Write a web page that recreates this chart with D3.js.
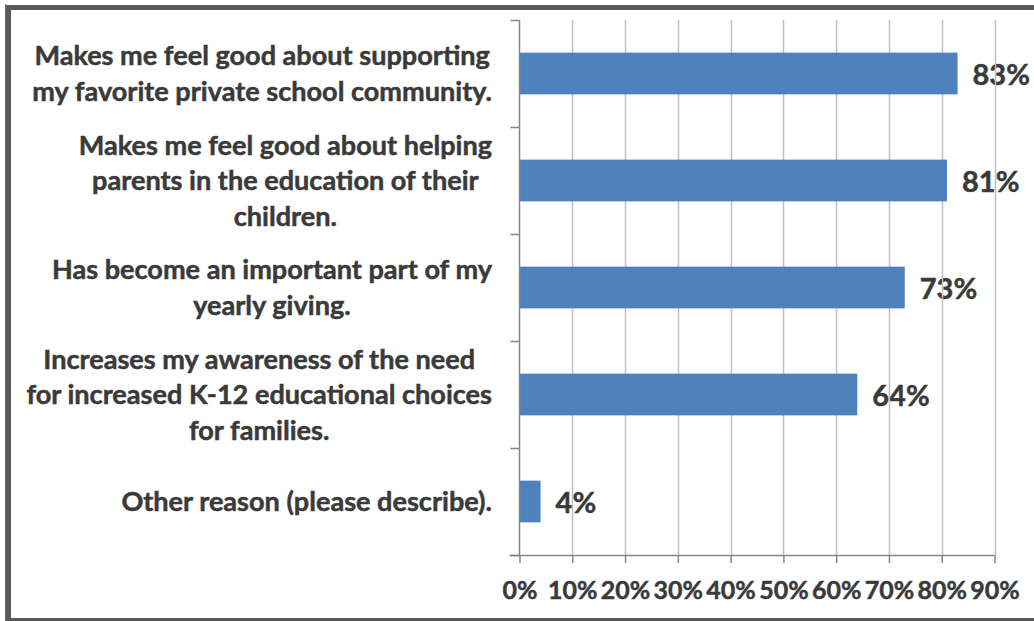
<!DOCTYPE html>
<html><head><meta charset="utf-8">
<script src="https://cdn.jsdelivr.net/npm/d3@7"></script>
<style>
html,body{margin:0;padding:0;background:#fff;}
svg{display:block;}
</style></head>
<body>
<svg id="chart" width="1034" height="621"></svg>
<script>
const categories = [
  ["Makes me feel good about supporting", "my favorite private school community."],
  ["Makes me feel good about helping", "parents in the education of their", "children."],
  ["Has become an important part of my", "yearly giving."],
  ["Increases my awareness of the need", "for increased K-12 educational choices", "for families."],
  ["Other reason (please describe)."]
];
const values = [0.83, 0.81, 0.73, 0.64, 0.04];
const valueLabels = ["83%", "81%", "73%", "64%", "4%"];
const tickValues = [0, 0.1, 0.2, 0.3, 0.4, 0.5, 0.6, 0.7, 0.8, 0.9];

const svg = d3.select("#chart");
const FONT = "Lato, 'Open Sans', sans-serif";
const TEXT = "#3a3a3a";
const mLeft = 519.5, mRight = 994.5, mTop = 20, mBottom = 555;

const x = d3.scaleLinear().domain([0, 0.9]).range([mLeft, mRight]);
const y = d3.scaleBand().domain(d3.range(categories.length)).range([mTop, mBottom]).paddingInner(0.61).paddingOuter(0.305);

function boldText(sel, size) {
  return sel.attr("font-family", FONT).attr("font-weight", "bold").attr("font-size", size)
    .attr("fill", TEXT).attr("stroke", TEXT).attr("stroke-width", 0.5);
}

// frame
svg.append("rect").attr("x", 8.5).attr("y", 7.5).attr("width", 1040).attr("height", 613).attr("fill", "none").attr("stroke", "#595959").attr("stroke-width", 5);
svg.append("line").attr("x1", 5.5).attr("x2", 5.5).attr("y1", 4).attr("y2", 621).attr("stroke", "#5b5bff").attr("stroke-width", 1);

// category labels
const fs = 27.1;
const labG = svg.append("g");
categories.forEach((lines, i) => {
  const g = labG.append("g");
  const lh = 35.5;
  const cy = y(i) + y.bandwidth() / 2 - 1;
  const texts = lines.map((l, j) => boldText(g.append("text"), fs)
    .attr("text-anchor", "middle").attr("dominant-baseline", "central")
    .attr("y", cy + (j - (lines.length - 1) / 2) * lh).text(l));
  const maxW = d3.max(texts, t => t.node().getComputedTextLength());
  texts.forEach(t => t.attr("x", 492 - maxW / 2));
});

// value labels
boldText(svg.append("g").selectAll("text").data(values).join("text"), 29)
  .attr("x", d => x(d) + 15).attr("y", (d, i) => y(i) + y.bandwidth() / 2)
  .attr("dominant-baseline", "central")
  .text((d, i) => valueLabels[i]);

// gridlines
svg.append("g").selectAll("line").data(tickValues.slice(1)).join("line")
  .attr("x1", d => Math.round(x(d)) + 0.5).attr("x2", d => Math.round(x(d)) + 0.5)
  .attr("y1", mTop).attr("y2", mBottom).attr("stroke", "#bfbfbf").attr("stroke-width", 1.5);

// bars
svg.append("g").selectAll("rect").data(values).join("rect")
  .attr("x", x(0)).attr("y", (d, i) => y(i)).attr("width", d => x(d) - x(0)).attr("height", y.bandwidth())
  .attr("fill", "#4f81bd");

// x axis
const xAxis = d3.axisBottom(x).tickValues(tickValues).tickFormat(d3.format(".0%")).tickSize(8).tickSizeOuter(0).tickPadding(18);
const xg = svg.append("g").attr("transform", `translate(0,${mBottom})`).call(xAxis);
xg.select(".domain").attr("stroke", "#868686").attr("stroke-width", 1.5).attr("d", `M${mLeft - 10},0.5H${mRight}`);
xg.selectAll(".tick line").attr("stroke", "#868686").attr("stroke-width", 1.5);
boldText(xg.selectAll("text"), 25);

// y axis
const yTicks = d3.range(categories.length + 1).map(i => mTop + i * (mBottom - mTop) / categories.length);
svg.append("line").attr("x1", mLeft).attr("x2", mLeft).attr("y1", mTop).attr("y2", mBottom).attr("stroke", "#868686").attr("stroke-width", 1.5);
svg.append("g").selectAll("line").data(yTicks).join("line")
  .attr("x1", mLeft - 9).attr("x2", mLeft).attr("y1", d => Math.round(d) + 0.5).attr("y2", d => Math.round(d) + 0.5)
  .attr("stroke", "#868686").attr("stroke-width", 1.5);
</script>
</body></html>
